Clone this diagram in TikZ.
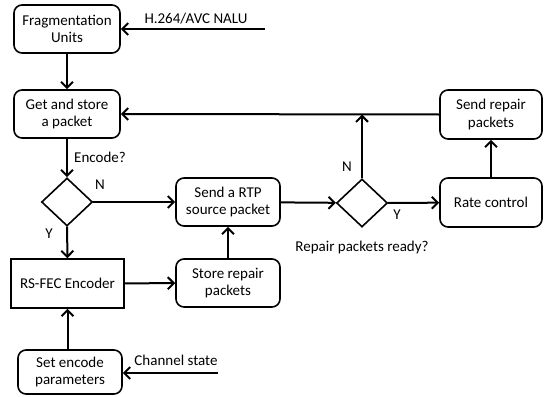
\documentclass[tikz,border=0pt]{standalone}
\usepackage{fontspec}
\setmainfont{Carlito}
\usetikzlibrary{arrows.meta,shapes.geometric}
\begin{document}
\begin{tikzpicture}[x=1pt,y=-1pt,
  txt/.style={font=\fontsize{15}{17.5}\selectfont},
  box/.style={draw, rounded corners=8pt, line width=1.6pt, fill=white, align=center,
    txt, minimum width=106pt, minimum height=48pt, inner sep=2pt},
  sbox/.style={box, rounded corners=0pt},
  dia/.style={draw, diamond, line width=1.6pt, minimum width=51pt, minimum height=48pt, inner sep=0pt},
  arr/.style={line width=2pt, -{Straight Barb[length=6pt,width=12pt,line width=2pt]}},
  lbl/.style={txt, inner sep=0pt}]
\useasboundingbox (0,0) rectangle (545,396);

% process boxes
\node[box] (frag) at (67,29) {Fragmentation\\Units};
\node[box] (get) at (67,114) {Get and store\\a packet};
\node[dia] (d1) at (67,202) {};
\node[box, minimum width=104pt] (send) at (228,202) {Send a RTP\\source packet};
\node[box, minimum width=104pt] (store) at (228,283) {Store repair\\packets};
\node[sbox, minimum width=113pt, minimum height=49pt] (rs) at (67.5,283.5) {RS-FEC Encoder};
\node[box, minimum width=104pt, minimum height=44pt] (set) at (70,372) {Set encode\\parameters};
\node[dia] (d2) at (362,203) {};
\node[box, minimum width=102pt, minimum height=49pt] (rate) at (491,202.5) {Rate control};
\node[box, minimum width=102pt, minimum height=49pt] (rep) at (491,114.5) {Send repair\\packets};

% external inputs
\coordinate (nalu) at (265,29);
\coordinate (chan) at (218,373);
\node[lbl] (naluL) at (196,19) {H.264/AVC NALU};
\node[lbl] (chanL) at (176,360) {Channel state};

% connectors
\draw[arr] (nalu) -- (frag);
\draw[arr] (frag) -- (get);
\draw[arr] (get) -- (d1);
\draw[arr] (d1) -- (send);
\draw[arr] (d1) -- (rs);
\draw[arr] (rs) -- (store);
\draw[arr] (store) -- (send);
\draw[arr] (set.north -| rs.south) -- (rs.south);
\draw[arr] (chan) -- (set.east |- chan);
\draw[arr] (send) -- (d2);
\draw[arr] (d2) -- (rate);
\draw[arr] (rate) -- (rep);
\coordinate (join) at (d2 |- rep);
\draw[arr] (d2) -- (join);
\draw[arr] (rep.west) -- (get.east);

% decision labels
\node[lbl] (enc) at (100,157) {Encode?};
\node[lbl] (n1) at (100,185) {N};
\node[lbl] (y1) at (49,234) {Y};
\node[lbl] (n2) at (347,167) {N};
\node[lbl] (y2) at (397,215) {Y};
\node[lbl] (rdy) at (362,247) {Repair packets ready?};
\end{tikzpicture}
\end{document}
